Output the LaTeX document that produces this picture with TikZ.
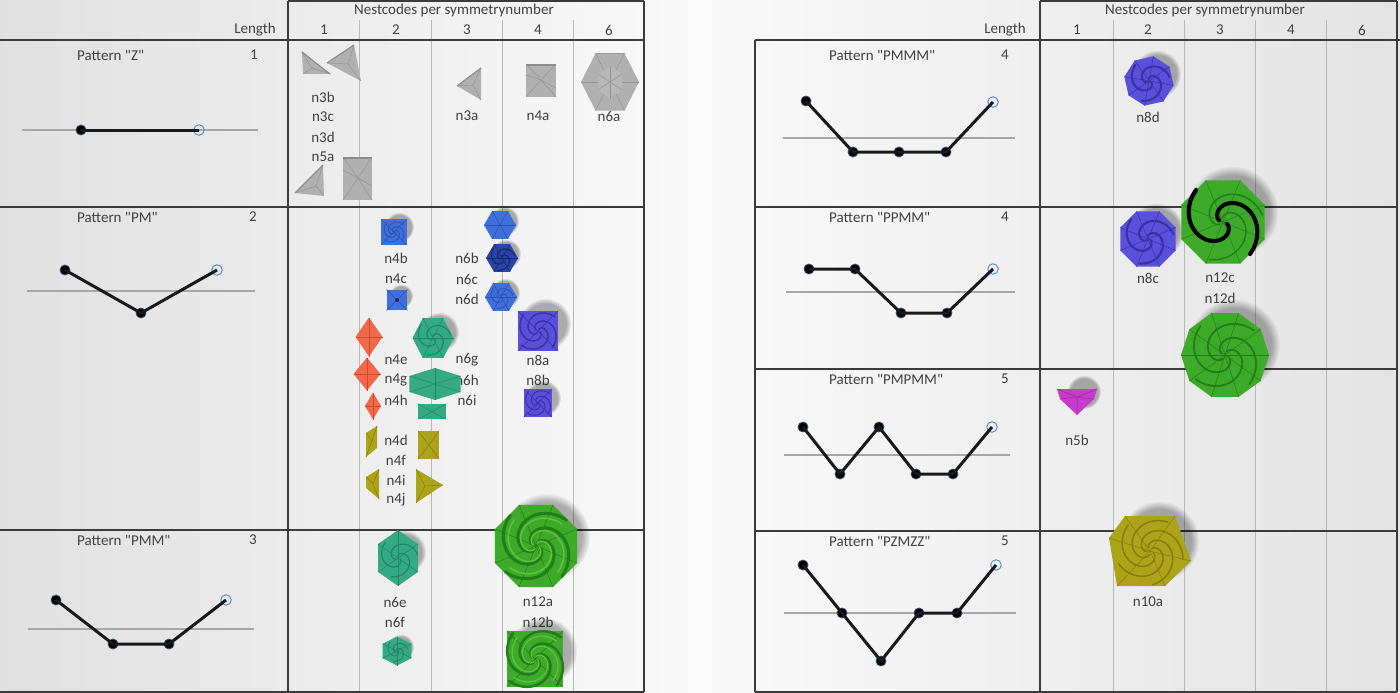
\documentclass[tikz,border=0pt]{standalone}
\usepackage{fontspec}
\setmainfont{Carlito}
\usetikzlibrary{fadings}
\definecolor{txt}{HTML}{404040}
\definecolor{gridc}{HTML}{3A3A3A}
\definecolor{thinc}{HTML}{B8B8B8}
\definecolor{basec}{HTML}{A6A6A6}
\definecolor{endc}{HTML}{5B8ED6}
\definecolor{dotc}{HTML}{2E5077}
\definecolor{ngray}{HTML}{B0B0B0}
\definecolor{ngrayd}{HTML}{939393}
\definecolor{nblue}{HTML}{3E6FDA}
\definecolor{nblued}{HTML}{2A52B0}
\definecolor{nnavy}{HTML}{2A45A8}
\definecolor{nnavyd}{HTML}{17286E}
\definecolor{npurp}{HTML}{5A50DC}
\definecolor{npurpd}{HTML}{3B32A4}
\definecolor{norange}{HTML}{F2694A}
\definecolor{norangd}{HTML}{CC4A2E}
\definecolor{nteal}{HTML}{33AA82}
\definecolor{ntealdk}{HTML}{22856A}
\definecolor{nolive}{HTML}{ADA318}
\definecolor{nolived}{HTML}{847C0C}
\definecolor{ngreen}{HTML}{3DAA2A}
\definecolor{ngreend}{HTML}{217E18}
\definecolor{ngreenl}{HTML}{5CC43E}
\definecolor{nmag}{HTML}{C83CCB}
\definecolor{nmagd}{HTML}{982A9C}
% soft shadow
\newcommand\shad[3]{\fill[black,opacity=.3,path fading=circle with fuzzy edge 20 percent] (#1,#2) circle[radius=#3];}
% polygon: cx cy rx ry n rot fill line
\newcommand\npoly[8]{%
  \fill[#7] ({#1+#3*cos(#6)},{#2+#4*sin(#6)}) \foreach \k in {1,...,#5}{ -- ({#1+#3*cos(#6+360*\k/#5)},{#2+#4*sin(#6+360*\k/#5)})} -- cycle;
  \foreach \k in {1,...,#5}{\draw[#8,line width=.5pt] (#1,#2) -- ({#1+#3*cos(#6+360*\k/#5)},{#2+#4*sin(#6+360*\k/#5)});}
}
% spiral arms: cx cy r arms color width
\newcommand\nspiral[6]{%
  \foreach \a in {1,...,#4}{\draw[#5,line width=#6,line cap=round] plot[domain=0.1:1,samples=25,variable=\u] ({#1+#3*\u*cos(360*\a/#4+230*\u)},{#2+#3*\u*sin(360*\a/#4+230*\u)});}
}
\newcommand\q{\textquotedbl}
\begin{document}
\begin{tikzpicture}[x=1pt,y=-1pt,
  font=\fontsize{15}{18}\selectfont, text=txt,
  lbl/.style={inner sep=0pt},
  plbl/.style={inner sep=0pt,anchor=west},
  thickl/.style={draw=gridc,line width=1.5pt},
  thinl/.style={draw=thinc,line width=.8pt},
  basel/.style={draw=basec,line width=1.2pt},
  dot/.style={circle,fill=black,draw=dotc,line width=.8pt,inner sep=0pt,minimum size=10pt},
  enddot/.style={circle,draw=endc,line width=1pt,inner sep=0pt,minimum size=10.5pt},
  seg/.style={line width=3pt,black!90}]
\useasboundingbox (0,0) rectangle (1400,693);
\shade[left color=black!12,right color=black!11,middle color=black!2] (0,0) rectangle (1400,693);

% ---------- LEFT TABLE GRID ----------
\foreach \x in {359,431.5,502,573}{\draw[thinl] (\x,20) -- (\x,692);}
\draw[thickl] (288,1) -- (644,1);
\draw[thickl] (288,1) -- (288,692);
\draw[thickl] (644,1) -- (644,692);
\foreach \y in {40,207,530,692}{\draw[thickl] (0,\y) -- (644,\y);}
% ---------- RIGHT TABLE GRID ----------
\foreach \x in {1113,1184,1255,1326}{\draw[thinl] (\x,20) -- (\x,692);}
\draw[thickl] (1040,1) -- (1397,1);
\draw[thickl] (1040,1) -- (1040,692);
\draw[thickl] (1397,1) -- (1397,692);
\draw[thickl] (755,40) -- (1400,40);
\foreach \y in {207,369,531,692}{\draw[thickl] (755,\y) -- (1397,\y);}
\draw[thickl] (755,40) -- (755,692);

% ---------- HEADERS ----------
\node[lbl] (hL) at (454,11) {Nestcodes per symmetrynumber};
\node[lbl] (lenL) at (255,30) {Length};
\node[lbl] (cL1) at (324,30) {1};
\node[lbl] (cL2) at (396,30) {2};
\node[lbl] (cL3) at (467,30) {3};
\node[lbl] (cL4) at (538,30) {4};
\node[lbl] (cL6) at (609,30) {6};
\node[lbl] (hR) at (1205,11) {Nestcodes per symmetrynumber};
\node[lbl] (lenR) at (1005,30) {Length};
\node[lbl] (cR1) at (1077,30) {1};
\node[lbl] (cR2) at (1148,30) {2};
\node[lbl] (cR3) at (1220,30) {3};
\node[lbl] (cR4) at (1291,30) {4};
\node[lbl] (cR6) at (1362,30) {6};

% ---------- PATTERN LABELS ----------
\node[plbl] (pZ) at (77,55) {Pattern \q Z\q};        \node[lbl] (nZ) at (254,55) {1};
\node[plbl] (pPM) at (77,217) {Pattern \q PM\q};     \node[lbl] (nPM) at (253,217) {2};
\node[plbl] (pPMM) at (77,540) {Pattern \q PMM\q};   \node[lbl] (nPMM) at (253,540) {3};
\node[plbl] (pPMMM) at (829,55) {Pattern \q PMMM\q};   \node[lbl] (nPMMM) at (1005,55) {4};
\node[plbl] (pPPMM) at (829,217) {Pattern \q PPMM\q};  \node[lbl] (nPPMM) at (1005,217) {4};
\node[plbl] (pPMPMM) at (829,379) {Pattern \q PMPMM\q}; \node[lbl] (nPMPMM) at (1005,379) {5};
\node[plbl] (pPZMZZ) at (829,541) {Pattern \q PZMZZ\q}; \node[lbl] (nPZMZZ) at (1005,541) {5};

% ---------- PATTERN GRAPHS ----------
% Z
\draw[basel] (22,130) -- (258,130);
\node[dot] (z1) at (81,130) {};
\node[enddot] (z2) at (199,130) {};
\draw[seg] (z1.center) -- (z2.center);
% PM
\draw[basel] (27,291) -- (255,291);
\node[dot] (a1) at (65,270) {};
\node[dot] (a2) at (141,313) {};
\node[enddot] (a3) at (217,270) {};
\draw[seg] (a1.center) -- (a2.center) -- (a3.center);
% PMM
\draw[basel] (28,629) -- (254,629);
\node[dot] (b1) at (56,600) {};
\node[dot] (b2) at (113,644) {};
\node[dot] (b3) at (169,644) {};
\node[enddot] (b4) at (226,600) {};
\draw[seg] (b1.center) -- (b2.center) -- (b3.center) -- (b4.center);
% PMMM
\draw[basel] (783,138) -- (1015,138);
\node[dot] (c1) at (806,101) {};
\node[dot] (c2) at (853,152) {};
\node[dot] (c3) at (899,152) {};
\node[dot] (c4) at (946,152) {};
\node[enddot] (c5) at (993,102) {};
\draw[seg] (c1.center) -- (c2.center) -- (c3.center) -- (c4.center) -- (c5.center);
% PPMM
\draw[basel] (786,292) -- (1015,292);
\node[dot] (d1) at (809,269) {};
\node[dot] (d2) at (855,269) {};
\node[dot] (d3) at (901,313) {};
\node[dot] (d4) at (947,313) {};
\node[enddot] (d5) at (993,269) {};
\draw[seg] (d1.center) -- (d2.center) -- (d3.center) -- (d4.center) -- (d5.center);
% PMPMM
\draw[basel] (784,455) -- (1010,455);
\node[dot] (e1) at (803,427) {};
\node[dot] (e2) at (840,474) {};
\node[dot] (e3) at (879,427) {};
\node[dot] (e4) at (916,474) {};
\node[dot] (e5) at (953,474) {};
\node[enddot] (e6) at (992,427) {};
\draw[seg] (e1.center) -- (e2.center) -- (e3.center) -- (e4.center) -- (e5.center) -- (e6.center);
% PZMZZ
\draw[basel] (784,613) -- (1016,613);
\node[dot] (f1) at (803,565) {};
\node[dot] (f2) at (842,613) {};
\node[dot] (f3) at (881,661) {};
\node[dot] (f4) at (919,613) {};
\node[dot] (f5) at (957,613) {};
\node[enddot] (f6) at (996,565) {};
\draw[seg] (f1.center) -- (f2.center) -- (f3.center) -- (f4.center) -- (f5.center) -- (f6.center);

% ---------- NESTCODE LABELS ----------
\node[lbl] (n3b) at (323,97) {n3b};
\node[lbl] (n3c) at (323,117) {n3c};
\node[lbl] (n3d) at (323,137) {n3d};
\node[lbl] (n5a) at (323,157) {n5a};
\node[lbl] (n3a) at (467,116) {n3a};
\node[lbl] (n4a) at (538,116) {n4a};
\node[lbl] (n6a) at (609,116) {n6a};
\node[lbl] (n4b) at (396,258) {n4b};
\node[lbl] (n4c) at (396,279) {n4c};
\node[lbl] (n6b) at (467,258) {n6b};
\node[lbl] (n6c) at (467,279) {n6c};
\node[lbl] (n6d) at (467,299) {n6d};
\node[lbl] (n4e) at (396,360) {n4e};
\node[lbl] (n4g) at (396,380) {n4g};
\node[lbl] (n4h) at (396,400) {n4h};
\node[lbl] (n6g) at (467,360) {n6g};
\node[lbl] (n6h) at (467,380) {n6h};
\node[lbl] (n6i) at (467,400) {n6i};
\node[lbl] (n8a) at (538,360) {n8a};
\node[lbl] (n8b) at (538,380) {n8b};
\node[lbl] (n4d) at (396,440) {n4d};
\node[lbl] (n4f) at (396,460) {n4f};
\node[lbl] (n4i) at (396,480) {n4i};
\node[lbl] (n4j) at (396,500) {n4j};
\node[lbl] (n6e) at (395,602) {n6e};
\node[lbl] (n6f) at (395,622) {n6f};
\node[lbl] (n12a) at (538,602) {n12a};
\node[lbl] (n12b) at (538,622) {n12b};
\node[lbl] (n8d) at (1148,117) {n8d};
\node[lbl] (n8c) at (1148,278) {n8c};
\node[lbl] (n12c) at (1220,278) {n12c};
\node[lbl] (n12d) at (1220,298) {n12d};
\node[lbl] (n5b) at (1077,440) {n5b};
\node[lbl] (n10a) at (1148,602) {n10a};

% ---------- NEST SHAPES : row Z (gray) ----------
\fill[ngray] (302,52) -- (330,74) -- (303,74) -- cycle;
\draw[ngrayd,line width=.5pt] (302,52) -- (312,68) -- (330,74) (312,68) -- (303,74);
\draw[black!45,line width=1.2pt] (302,52) -- (330,74);
\fill[ngray] (327,63) -- (354,45) -- (361,81) -- cycle;
\draw[ngrayd,line width=.5pt] (327,63) -- (348,64) -- (354,45) (348,64) -- (361,81);
\draw[black!45,line width=1.2pt] (327,63) -- (354,45);
\fill[ngray] (295,193) -- (323,165) -- (324,196) -- cycle;
\draw[ngrayd,line width=.5pt] (295,193) -- (316,186) -- (323,165) (316,186) -- (324,196);
\draw[black!45,line width=1.2pt] (295,193) -- (323,165);
\fill[ngray] (343,157) rectangle (372,200);
\draw[ngrayd,line width=.5pt] (343,157) -- (358,178) -- (372,157) (343,200) -- (358,178) -- (372,200) (343,170) -- (358,178) -- (372,186);
\draw[black!45,line width=1.2pt] (343,158) -- (372,158);
\fill[ngray] (457,86) -- (481,68) -- (481,100) -- cycle;
\draw[ngrayd,line width=.5pt] (457,86) -- (473,85) -- (481,68) (473,85) -- (481,100);
\draw[black!45,line width=1.2pt] (457,86) -- (481,68);
\fill[ngray] (526,64) rectangle (556,97);
\draw[ngrayd,line width=.5pt] (526,64) -- (541,80) -- (556,64) (526,97) -- (541,80) -- (556,97) (526,75) -- (541,80) -- (556,88);
\draw[black!45,line width=1.2pt] (526,65) -- (556,65);
\npoly{610}{82}{29}{33}{6}{0}{ngray}{ngrayd}
\npoly{610}{82}{14}{16}{6}{30}{ngray!90!white}{ngrayd}
\draw[black!40,line width=1pt] (595.5,53.4) -- (624.5,53.4);

% ---------- row PM ----------
\shad{399}{227}{15}\shad{401}{296}{12}
\shad{504}{221}{15}\shad{506}{254}{15}\shad{505}{293}{15}
\shad{545}{324}{26}\shad{543}{398}{18}
\npoly{394}{232}{17.7}{17.7}{4}{45}{nblue}{nblued}
\nspiral{394}{232}{12}{4}{nblued}{.8pt}
\npoly{397}{300}{14.8}{14.8}{4}{45}{nblue}{nblued}
\fill[nnavyd] (397,300) circle[radius=2];
\npoly{500}{225}{16}{16}{6}{0}{nblue}{nblued}
\npoly{502}{258}{16}{16}{6}{0}{nnavy}{nnavyd}
\nspiral{502}{258}{13}{3}{nnavyd}{1.2pt}
\npoly{501}{297}{16}{16}{6}{0}{nblue}{nblued}
\nspiral{501}{297}{12}{3}{nblued}{.8pt}
\npoly{538}{331}{28.3}{28.3}{4}{45}{npurp}{npurpd}
\nspiral{538}{331}{22}{4}{npurpd}{1.4pt}
\npoly{538}{403}{19.8}{19.8}{4}{45}{npurp}{npurpd}
\nspiral{538}{403}{15}{4}{npurpd}{1pt}
% orange
\npoly{369}{337}{13.5}{19.5}{4}{0}{norange}{norangd}
\npoly{367}{374}{13.5}{16.5}{4}{0}{norange}{norangd}
\npoly{373}{406}{8}{13.5}{4}{0}{norange}{norangd}
% teal
\shad{439}{332}{20}
\npoly{433}{338}{20.5}{23}{6}{0}{nteal}{ntealdk}
\nspiral{433}{338}{18}{3}{ntealdk}{1.2pt}
\npoly{435}{384}{29.5}{16}{6}{90}{nteal}{ntealdk}
\fill[nteal] (418,404) rectangle (446,419);
\draw[ntealdk,line width=.5pt] (418,404) -- (432,412) -- (446,404) (418,419) -- (432,412) -- (446,419);
% olive
\fill[nolive] (366,433) -- (377,426) -- (377,448) -- (366,457) -- cycle;
\draw[nolived,line width=.5pt] (366,433) -- (372,441) -- (377,426) (372,441) -- (366,457);
\fill[nolive] (418,431) rectangle (439,459);
\draw[nolived,line width=.5pt] (418,431) -- (429,445) -- (439,431) (418,459) -- (429,445) -- (439,459);
\fill[nolive] (366,477) -- (379,469) -- (379,499) -- (366,488) -- cycle;
\draw[nolived,line width=.5pt] (366,477) -- (373,484) -- (379,469) (373,484) -- (379,499);
\fill[nolive] (416,469) -- (443,485) -- (416,503) -- cycle;
\draw[nolived,line width=.5pt] (416,469) -- (425,486) -- (443,485) (425,486) -- (416,503);

% ---------- row PMM ----------
\shad{404}{552}{22}\shad{401}{647}{13}
\shad{546}{537}{44}\shad{543}{651}{34}
\npoly{398}{558}{23}{28}{6}{90}{nteal}{ntealdk}
\nspiral{398}{558}{20}{3}{ntealdk}{1.2pt}
\npoly{397}{651}{16.7}{14.5}{6}{90}{nteal}{ntealdk}
\nspiral{397}{651}{11}{3}{ntealdk}{1pt}
\npoly{536}{546}{44.4}{44.4}{8}{22.5}{ngreen}{ngreend}
\nspiral{536}{546}{40}{4}{ngreend}{3pt}
\nspiral{536}{546}{34}{4}{ngreenl}{1.5pt}
\npoly{535}{659}{39.6}{39.6}{4}{45}{ngreen}{ngreend}
\nspiral{535}{659}{34}{4}{ngreend}{2.5pt}
\nspiral{535}{659}{28}{4}{ngreenl}{1.2pt}

% ---------- right panel shapes ----------
\shad{1157}{74}{24}\shad{1156}{231}{28}
\shad{1232}{212}{46}\shad{1234}{345}{46}
\shad{1084}{392}{17}\shad{1159}{541}{40}
\npoly{1149}{81}{25}{25}{8}{10}{npurp}{npurpd}
\nspiral{1149}{81}{21}{3}{npurpd}{2pt}
\npoly{1148}{239}{30}{30}{8}{22.5}{npurp}{npurpd}
\nspiral{1148}{239}{26}{3}{npurpd}{2.2pt}
\npoly{1223}{222}{45}{45}{8}{22.5}{ngreen}{ngreend}
\nspiral{1223}{222}{40}{3}{ngreend}{1.5pt}
\nspiral{1223}{222}{42}{2}{black}{4pt}
\npoly{1225}{355}{44}{44}{10}{0}{ngreen}{ngreend}
\nspiral{1225}{355}{38}{4}{ngreend}{1.8pt}
\fill[nmag] (1057,389) -- (1097,389) -- (1094,399) -- (1077,415) -- (1060,399) -- cycle;
\draw[nmagd,line width=.5pt] (1077,397) -- (1057,389) (1077,397) -- (1097,389) (1077,397) -- (1077,415) (1077,397) -- (1060,399) (1077,397) -- (1094,399);
\fill[nolive] (1125,516) -- (1175,516) -- (1191,561) -- (1165,586) -- (1117,586) -- (1109,538) -- cycle;
\draw[nolived,line width=.5pt] (1150,551) -- (1125,516) (1150,551) -- (1175,516) (1150,551) -- (1191,561) (1150,551) -- (1165,586) (1150,551) -- (1117,586) (1150,551) -- (1109,538);
\nspiral{1150}{551}{34}{5}{nolived}{1.5pt}
\end{tikzpicture}
\end{document}
